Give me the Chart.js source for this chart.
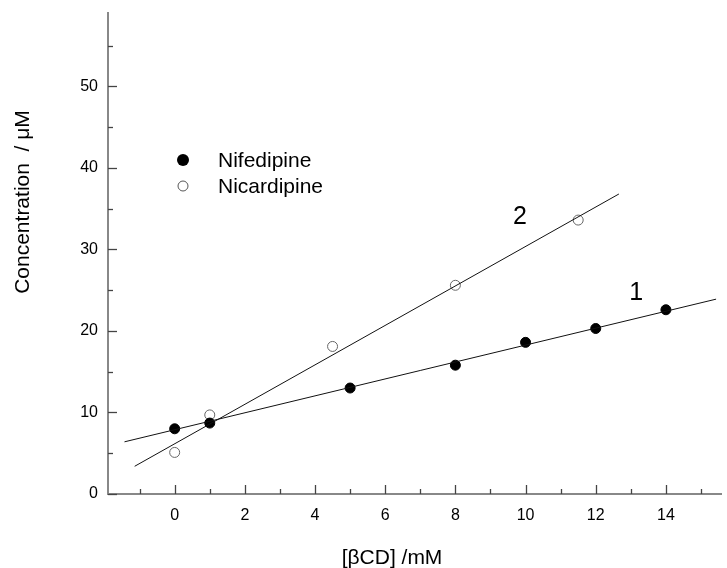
<!DOCTYPE html>
<html>
<head>
<meta charset="utf-8">
<script src="https://cdn.jsdelivr.net/npm/chart.js@4/dist/chart.umd.min.js"></script>
<style>
  body { margin: 0; background: #fff; }
  #wrap { width: 727px; height: 568px; }
</style>
</head>
<body>
<div id="wrap"><canvas id="chart"></canvas></div>
<script>
// measured points
const nifedipineX = [0, 1, 5, 8, 10, 12, 14];
const nifedipineY = [8.0, 8.7, 13.0, 15.8, 18.6, 20.3, 22.6];
const nicardipineX = [0, 1, 4.5, 8, 11.5];
const nicardipineY = [5.1, 9.7, 18.1, 25.6, 33.6];

// fitted lines (end points)
const fit1X = [-1.43, 15.43];
const fit1Y = [6.4, 23.9];
const fit2X = [-1.14, 12.66];
const fit2Y = [3.4, 36.8];

// ticks
const xTicks = [-1, 0, 1, 2, 3, 4, 5, 6, 7, 8, 9, 10, 11, 12, 13, 14, 15];
const yTicks = [0, 5, 10, 15, 20, 25, 30, 35, 40, 45, 50, 55];

const pts = (xs, ys) => xs.map((x, i) => ({x: x, y: ys[i]}));
const FONT = '"Liberation Sans", Arial, Helvetica, sans-serif';

// inward tick marks, legend, line numbers, axis titles
const decor = {
  id: 'decor',
  afterDraw(chart) {
    const ctx = chart.ctx;
    const xs = chart.scales.x, ys = chart.scales.y;
    const area = chart.chartArea;
    ctx.save();
    ctx.strokeStyle = '#444';
    ctx.lineWidth = 1.3;
    xTicks.forEach(v => {
      const px = Math.round(xs.getPixelForValue(v)) + 0.5;
      const len = v % 2 === 0 ? 9 : 5;
      ctx.beginPath();
      ctx.moveTo(px, area.bottom);
      ctx.lineTo(px, area.bottom - len);
      ctx.stroke();
    });
    yTicks.forEach(v => {
      const py = Math.round(ys.getPixelForValue(v)) + 0.5;
      const len = v % 10 === 0 ? 9 : 5;
      ctx.beginPath();
      ctx.moveTo(area.left, py);
      ctx.lineTo(area.left + len, py);
      ctx.stroke();
    });

    // legend
    ctx.fillStyle = '#000';
    ctx.font = '21px ' + FONT;
    ctx.textBaseline = 'middle';
    ctx.textAlign = 'left';
    ctx.beginPath();
    ctx.arc(183, 160, 6, 0, Math.PI * 2);
    ctx.fill();
    ctx.fillText('Nifedipine', 218, 161);
    ctx.beginPath();
    ctx.strokeStyle = '#555';
    ctx.lineWidth = 1;
    ctx.arc(183, 186, 5, 0, Math.PI * 2);
    ctx.stroke();
    ctx.fillText('Nicardipine', 218, 187);

    // line numbers
    ctx.font = '25px ' + FONT;
    ctx.textAlign = 'center';
    ctx.fillText('2', xs.getPixelForValue(9.84), ys.getPixelForValue(34));
    ctx.fillText('1', xs.getPixelForValue(13.15), ys.getPixelForValue(24.7));

    // axis titles
    ctx.font = '21px ' + FONT;
    ctx.fillText('[\u03B2CD] /mM', 392, 558);
    ctx.translate(23, 202);
    ctx.rotate(-Math.PI / 2);
    ctx.fillText('Concentration  / \u03BCM', 0, 0);
    ctx.restore();
  }
};

new Chart(document.getElementById('chart'), {
  type: 'scatter',
  data: {
    datasets: [
      {
        label: 'fit 1',
        data: pts(fit1X, fit1Y),
        showLine: true,
        borderColor: '#111',
        borderWidth: 1,
        pointRadius: 0
      },
      {
        label: 'fit 2',
        data: pts(fit2X, fit2Y),
        showLine: true,
        borderColor: '#111',
        borderWidth: 1,
        pointRadius: 0
      },
      {
        label: 'Nifedipine',
        data: pts(nifedipineX, nifedipineY),
        backgroundColor: '#000',
        borderColor: '#000',
        pointRadius: 5,
        borderWidth: 1
      },
      {
        label: 'Nicardipine',
        data: pts(nicardipineX, nicardipineY),
        backgroundColor: '#fff',
        borderColor: '#666',
        pointRadius: 5,
        borderWidth: 1
      }
    ]
  },
  options: {
    responsive: true,
    maintainAspectRatio: false,
    animation: false,
    layout: { padding: { top: 13, right: 0, left: 0, bottom: 0 } },
    plugins: {
      legend: { display: false },
      tooltip: { enabled: false }
    },
    scales: {
      x: {
        type: 'linear',
        min: -1.9,
        max: 15.57,
        afterBuildTicks: axis => { axis.ticks = xTicks.map(v => ({value: v})); },
        afterFit: scale => {
          scale.height = 74;
          scale.paddingLeft = 0;
          scale.paddingRight = 0;
        },
        grid: { display: true, drawOnChartArea: false, drawTicks: false },
        border: { color: '#888', width: 2 },
        ticks: {
          padding: 12,
          color: '#000',
          font: { family: FONT, size: 16 },
          maxRotation: 0,
          autoSkip: false,
          callback: v => (v % 2 === 0 ? String(v) : '')
        }
      },
      y: {
        min: 0,
        max: 59,
        afterBuildTicks: axis => { axis.ticks = yTicks.map(v => ({value: v})); },
        afterFit: scale => {
          scale.width = 108;
          scale.paddingTop = 0;
          scale.paddingBottom = 0;
        },
        grid: { display: true, drawOnChartArea: false, drawTicks: false },
        border: { color: '#888', width: 2 },
        ticks: {
          padding: 10,
          color: '#000',
          font: { family: FONT, size: 16 },
          autoSkip: false,
          callback: v => (v % 10 === 0 ? String(v) : '')
        }
      }
    }
  },
  plugins: [decor]
});
</script>
</body>
</html>
